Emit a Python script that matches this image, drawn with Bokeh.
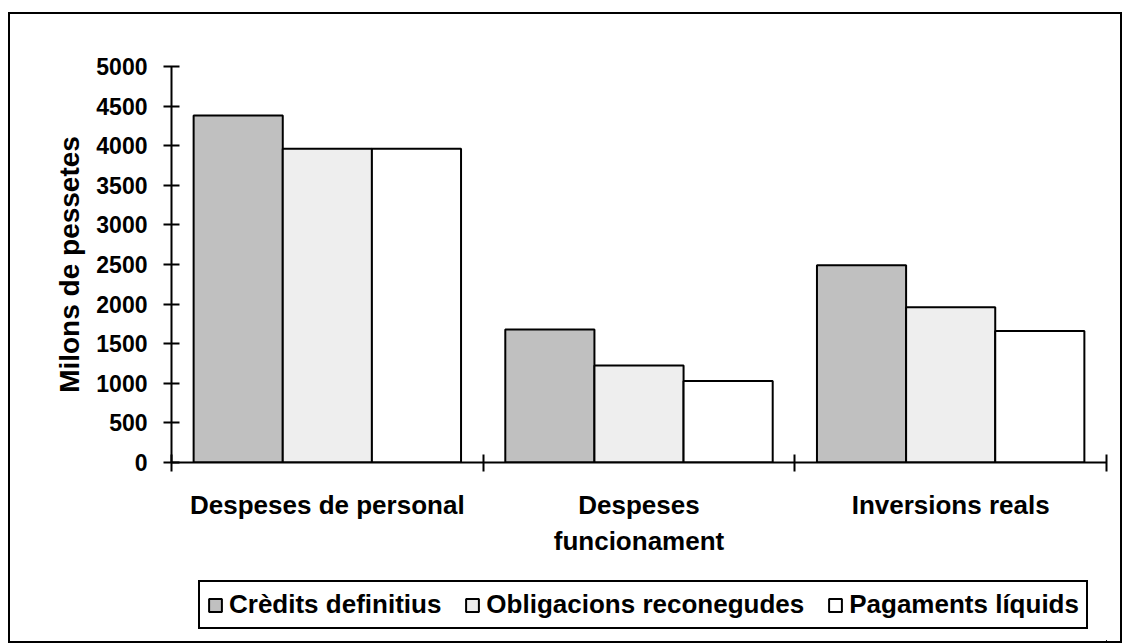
from bokeh.plotting import figure
from bokeh.layouts import column
from bokeh.models import Range1d, FixedTicker, Legend, LegendItem
from bokeh.embed import file_html
from bokeh.resources import INLINE

# ---- data ----
categories = ["Despeses de personal", "Despeses\nfuncionament", "Inversions reals"]
series_names = ["Crèdits definitius", "Obligacions reconegudes", "Pagaments líquids"]
credits_definitius = [4380, 1680, 2490]
obligacions_reconegudes = [3960, 1225, 1960]
pagaments_liquids = [3960, 1030, 1660]
series_values = [credits_definitius, obligacions_reconegudes, pagaments_liquids]
series_colors = ["#C0C0C0", "#EEEEEE", "#FFFFFF"]
y_ticks = [0, 500, 1000, 1500, 2000, 2500, 3000, 3500, 4000, 4500, 5000]
y_label = "Milons de pessetes"

FONT = "Liberation Sans"

p = figure(width=1110, height=560, output_backend="svg", toolbar_location=None,
           x_range=Range1d(0, len(categories)), y_range=Range1d(0, 5000),
           min_border_left=161, min_border_right=14, min_border_top=52, min_border_bottom=112)
p.outline_line_color = None
p.xgrid.visible = False
p.ygrid.visible = False
p.background_fill_color = "white"
p.border_fill_color = "white"

bar_w = 0.286
offsets = [-bar_w, 0.0, bar_w]
series_x = []
for s, (name, vals, col) in enumerate(zip(series_names, series_values, series_colors)):
    xs = [i + 0.5 + offsets[s] for i in range(len(categories))]
    series_x.append(xs)
    p.vbar(x=xs, top=vals, bottom=0, width=bar_w, fill_color=col,
           line_color="black", line_width=2)

# y axis
ya = p.yaxis[0]
ya.ticker = FixedTicker(ticks=y_ticks)
ya.axis_line_width = 2
ya.axis_line_color = "black"
ya.major_tick_line_width = 2
ya.major_tick_in = 8
ya.major_tick_out = 8
ya.minor_tick_line_color = None
ya.major_label_standoff = 16
ya.major_label_text_font = FONT
ya.major_label_text_font_style = "bold"
ya.major_label_text_font_size = "23px"
ya.major_label_text_color = "black"
ya.axis_label = y_label
ya.axis_label_text_font = FONT
ya.axis_label_text_font_style = "bold"
ya.axis_label_text_font_size = "28px"
ya.axis_label_text_color = "black"
ya.axis_label_standoff = 8

# x axis: boundary ticks as minor ticks, labels at centres
xa = p.xaxis[0]
centres = [i + 0.5 for i in range(len(categories))]
bounds = [float(i) for i in range(len(categories) + 1)]
xa.ticker = FixedTicker(ticks=centres, minor_ticks=bounds)
xa.major_label_overrides = {c: lab for c, lab in zip(centres, categories)}
xa.axis_line_width = 2
xa.axis_line_color = "black"
xa.major_tick_in = 0
xa.major_tick_out = 0
xa.major_tick_line_color = None
xa.minor_tick_line_color = "black"
xa.minor_tick_line_width = 2
xa.minor_tick_in = 8
xa.minor_tick_out = 9
xa.major_label_standoff = 18
xa.major_label_text_font = FONT
xa.major_label_text_font_style = "bold"
xa.major_label_text_font_size = "26px"
xa.major_label_text_line_height = 1.2
xa.major_label_text_color = "black"

# legend strip (second figure; the series sit outside its view so only the legend shows)
p2 = figure(width=1110, height=67, output_backend="svg", toolbar_location=None,
            x_range=Range1d(-20, -19), y_range=Range1d(6000, 7000),
            x_axis_type=None, y_axis_type=None,
            min_border_left=161, min_border_right=14, min_border_top=0, min_border_bottom=0)
p2.outline_line_color = None
p2.xgrid.visible = False
p2.ygrid.visible = False
p2.background_fill_color = "white"
p2.border_fill_color = "white"
items = []
for name, xs, vals, col in zip(series_names, series_x, series_values, series_colors):
    r = p2.vbar(x=xs, top=vals, bottom=0, width=bar_w, fill_color=col,
                line_color="black", line_width=2)
    items.append(LegendItem(label=name, renderers=[r]))

legend = Legend(items=items, orientation="horizontal", location=(27, 12),
                glyph_width=16, glyph_height=16, label_standoff=6, spacing=23,
                padding=7, margin=0,
                label_text_font=FONT, label_text_font_style="bold",
                label_text_font_size="26px", label_text_color="black",
                border_line_color="black", border_line_width=2, border_line_alpha=1.0,
                background_fill_color="white", background_fill_alpha=1.0)
p2.add_layout(legend, "center")

layout = column(p, p2, spacing=0,
                styles={"border": "2px solid black", "margin-left": "8px", "margin-top": "12px"})

open("out.html", "w").write(file_html(layout, INLINE))
